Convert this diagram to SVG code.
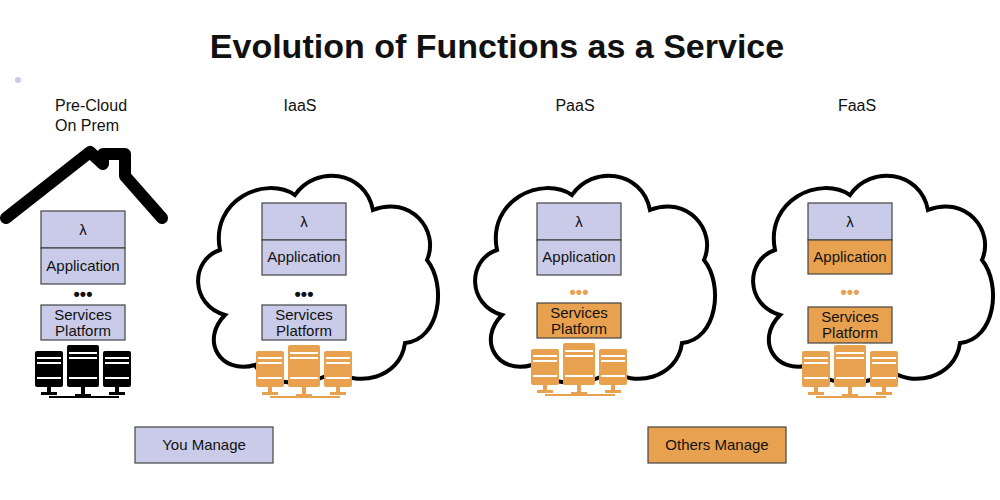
<svg xmlns="http://www.w3.org/2000/svg" width="1000" height="500" viewBox="0 0 1000 500">
<style>
.t{font-family:"Liberation Sans",Arial,sans-serif;fill:#111}
.lbl{font-size:16px}
.bx{font-size:15px;text-anchor:middle}
.lav{fill:#c9cbe8;stroke:#444;stroke-width:1.2}
.org{fill:#e8a14f;stroke:#444;stroke-width:1.2}
.cloud{fill:#fff;stroke:#000;stroke-width:4}
</style>
<defs>
<path id="cloudp" d="M40,150 C5,140 5,95 35,85 C25,35 80,10 110,30 C130,0 180,5 188,45 C225,30 255,65 242,95 C262,120 255,175 220,178 C215,215 170,222 150,205 C125,225 80,220 70,200 C35,210 15,175 40,150 Z"/>
<g id="srv">
<rect x="0" y="6" width="28" height="36" rx="2"/>
<rect x="32" y="0" width="32" height="42" rx="2"/>
<rect x="68" y="6" width="28" height="36" rx="2"/>
<g fill="#fff"><rect x="2" y="12" width="24" height="2"/><rect x="2" y="17" width="24" height="2"/><rect x="34" y="7" width="28" height="2"/><rect x="34" y="12" width="28" height="2"/><rect x="70" y="12" width="24" height="2"/><rect x="70" y="17" width="24" height="2"/>
<rect x="2" y="32" width="24" height="2"/><rect x="34" y="32" width="28" height="2"/><rect x="70" y="32" width="24" height="2"/></g>
<rect x="12" y="42" width="4" height="6"/><rect x="46" y="42" width="4" height="8"/><rect x="80" y="42" width="4" height="6"/>
<rect x="6" y="47" width="16" height="3"/><rect x="74" y="47" width="16" height="3"/><rect x="40" y="49" width="16" height="3"/>
<rect x="14" y="51" width="70" height="2"/>
</g>
</defs>
<text class="t" x="497" y="58" text-anchor="middle" style="font-size:34px;font-weight:bold">Evolution of Functions as a Service</text>
<circle cx="18" cy="80" r="3" fill="#c9cbe8"/>
<text class="t lbl" x="55" y="111">Pre-Cloud</text>
<text class="t lbl" x="55" y="131">On Prem</text>
<text class="t lbl" x="300" y="111" text-anchor="middle">IaaS</text>
<text class="t lbl" x="575" y="111" text-anchor="middle">PaaS</text>
<text class="t lbl" x="857" y="111" text-anchor="middle">FaaS</text>

<g id="onprem">
<path d="M6,218 L90,152 L103,164 L103,154 L125,154 L125,176 L162,218" fill="none" stroke="#000" stroke-width="12" stroke-linejoin="round" stroke-linecap="round"/>
<rect class="lav" x="41" y="211" width="84" height="37"/><text class="t bx" x="83" y="235">λ</text>
<rect class="lav" x="41" y="248" width="84" height="36"/><text class="t bx" x="83" y="271">Application</text>
<text class="t" x="83" y="300" text-anchor="middle" style="font-size:18px;font-weight:bold">•••</text>
<rect class="lav" x="41" y="305" width="84" height="35"/><text class="t bx" x="83" y="320">Services</text><text class="t bx" x="83" y="336">Platform</text>
<use href="#srv" x="35" y="345" fill="#000"/>
</g>

<g id="iaas">
<use href="#cloudp" class="cloud" transform="translate(185,165)"/>
<rect class="lav" x="262" y="203" width="84" height="37"/><text class="t bx" x="304" y="227">λ</text>
<rect class="lav" x="262" y="240" width="84" height="35"/><text class="t bx" x="304" y="262">Application</text>
<text class="t" x="304" y="300" text-anchor="middle" style="font-size:18px;font-weight:bold">•••</text>
<rect class="lav" x="262" y="305" width="84" height="35"/><text class="t bx" x="304" y="320">Services</text><text class="t bx" x="304" y="336">Platform</text>
<use href="#srv" x="256" y="345" fill="#e8a14f"/>
</g>

<g id="paas">
<use href="#cloudp" class="cloud" transform="translate(462,165)"/>
<rect class="lav" x="537" y="203" width="84" height="37"/><text class="t bx" x="579" y="227">λ</text>
<rect class="lav" x="537" y="240" width="84" height="35"/><text class="t bx" x="579" y="262">Application</text>
<text x="579" y="298" text-anchor="middle" style="font-family:'Liberation Sans',sans-serif;font-size:18px;font-weight:bold;fill:#e8a14f">•••</text>
<rect class="org" x="537" y="303" width="84" height="35"/><text class="t bx" x="579" y="318">Services</text><text class="t bx" x="579" y="334">Platform</text>
<use href="#srv" x="531" y="343" fill="#e8a14f"/>
</g>

<g id="faas">
<use href="#cloudp" class="cloud" transform="translate(740,165)"/>
<rect class="lav" x="808" y="203" width="84" height="37"/><text class="t bx" x="850" y="227">λ</text>
<rect class="org" x="808" y="240" width="84" height="34"/><text class="t bx" x="850" y="262">Application</text>
<text x="850" y="298" text-anchor="middle" style="font-family:'Liberation Sans',sans-serif;font-size:18px;font-weight:bold;fill:#e8a14f">•••</text>
<rect class="org" x="808" y="307" width="84" height="36"/><text class="t bx" x="850" y="322">Services</text><text class="t bx" x="850" y="338">Platform</text>
<use href="#srv" x="802" y="345" fill="#e8a14f"/>
</g>

<g id="you">
<rect class="lav" x="135" y="427" width="138" height="36"/><text class="t bx" x="204" y="450">You Manage</text>
</g>
<g id="others">
<rect class="org" x="648" y="427" width="138" height="36"/><text class="t bx" x="717" y="450">Others Manage</text>
</g>
<g id="connectors"/>
</svg>
